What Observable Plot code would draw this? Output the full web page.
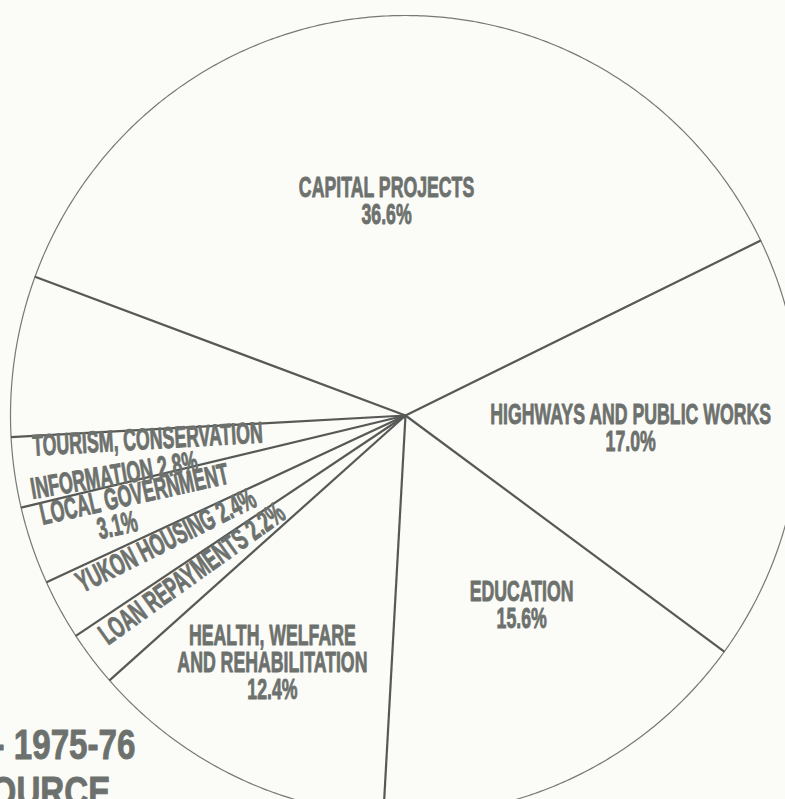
<!DOCTYPE html>
<html>
<head>
<meta charset="utf-8">
<script src="https://cdn.jsdelivr.net/npm/d3@7"></script>
<script src="https://cdn.jsdelivr.net/npm/@observablehq/plot@0.6"></script>
<style>
  html, body { margin: 0; padding: 0; background: #fbfbf8; overflow: hidden; }
  #chart svg { display: block; }
</style>
</head>
<body>
<div id="chart"></div>
<script>
// ---- data (clockwise from the top slice) ----
const categories = [
  "CAPITAL PROJECTS",
  "HIGHWAYS AND PUBLIC WORKS",
  "EDUCATION",
  "HEALTH, WELFARE AND REHABILITATION",
  "LOAN REPAYMENTS",
  "YUKON HOUSING",
  "LOCAL GOVERNMENT",
  "TOURISM, CONSERVATION INFORMATION",
  "" // unlabelled slice
];
const shares = [36.6, 17.0, 15.6, 12.4, 2.2, 2.4, 3.1, 2.8, 6.4];
const titleLines = ["- 1975-76", "SOURCE"];

// ---- geometry ----
const rad = Math.PI / 180;
const startBearing = -69.7; // degrees clockwise from 12 o'clock
const table = categories.map((c, i) => ({category: c, share: shares[i]}));
const arcs = d3.pie().sort(null).value(d => d.share)
  .startAngle(startBearing * rad).endAngle((startBearing + 360) * rad)(table);

// outer rim points per slice
const rim = arcs.flatMap((a, i) => {
  const n = Math.max(4, Math.ceil((a.endAngle - a.startAngle) / (0.5 * rad)));
  return d3.range(n + 1).map(k => {
    const t = a.startAngle + (a.endAngle - a.startAngle) * k / n;
    return {slice: i, x: Math.sin(t), y: Math.cos(t)};
  });
});

const pct = i => shares[i].toFixed(1) + "%";

// ---- label layout (positions in pie units, radius = 1) ----
const labels = [
  {text: categories[0] + "\n" + pct(0), x: -0.048, y: 0.535, r: 0},
  {text: categories[1] + "\n" + pct(1), x: 0.570, y: -0.033, r: 0},
  {text: categories[2] + "\n" + pct(2), x: 0.294, y: -0.475, r: 0},
  {text: "HEALTH, WELFARE\nAND REHABILITATION\n" + pct(3), x: -0.337, y: -0.62, r: 0},
  {text: categories[7].split(" INFORMATION")[0], x: -0.653, y: -0.0625, r: -3.3},
  {text: "INFORMATION " + pct(7), x: -0.737, y: -0.1525, r: -9.5},
  {text: categories[6], x: -0.686, y: -0.2, r: -12.5},
  {text: pct(6), x: -0.729, y: -0.2775, r: -12.5},
  {text: categories[5] + " " + pct(5), x: -0.605, y: -0.315, r: -26.5},
  {text: categories[4] + " " + pct(4), x: -0.539, y: -0.3975, r: -35.5}
];

const ink = "#6d716d";
const font = "'Liberation Sans', Arial, sans-serif";

const svg = Plot.plot({
  width: 785,
  height: 799,
  margin: 0,
  x: {domain: [-405 / 395, 380 / 395], axis: null},
  y: {domain: [-384 / 400, 415 / 400], axis: null},
  style: {background: "#fbfbf8", overflow: "visible"},
  marks: [
    Plot.line(rim, {x: "x", y: "y", z: "slice", stroke: "#767976", strokeWidth: 1.2, curve: "linear"}),
    Plot.link(arcs, {
      x1: () => 0, y1: () => 0,
      x2: d => Math.sin(d.startAngle), y2: d => Math.cos(d.startAngle),
      stroke: "#565956", strokeWidth: 2.2
    }),
    Plot.text(labels, {
      x: "x", y: "y", text: "text", rotate: "r",
      fill: ink, stroke: ink, strokeWidth: 0.9, fontSize: 30, fontWeight: "bold", fontFamily: font,
      lineHeight: 0.9, textAnchor: "middle"
    }),
    Plot.text([titleLines[0]], {
      frameAnchor: "bottom-left", text: d => d, textAnchor: "start", lineAnchor: "bottom",
      dx: -7, dy: -41, fill: ink, stroke: ink, strokeWidth: 0.9,
      fontSize: 42, fontWeight: "bold", fontFamily: font
    }),
    Plot.text([titleLines[1]], {
      frameAnchor: "bottom-left", text: d => d, textAnchor: "start", lineAnchor: "bottom",
      dx: -32, dy: 6, fill: ink, stroke: ink, strokeWidth: 0.9,
      fontSize: 42, fontWeight: "bold", fontFamily: font
    })
  ]
});

// condense the lettering horizontally (narrow bold grotesque of the original)
const squeeze = [0.59, 0.79, 0.79];
svg.querySelectorAll('g[aria-label="text"]').forEach((g, gi) => {
  const sx = squeeze[gi] ?? 0.59;
  g.querySelectorAll("text").forEach(t => {
    let tr = t.getAttribute("transform");
    if (!tr) {
      tr = `translate(${t.getAttribute("x") || 0},${t.getAttribute("y") || 0})`;
      t.removeAttribute("x"); t.removeAttribute("y");
    }
    t.setAttribute("transform", tr + ` scale(${sx},1)`);
  });
});

document.getElementById("chart").appendChild(svg);
</script>
</body>
</html>
